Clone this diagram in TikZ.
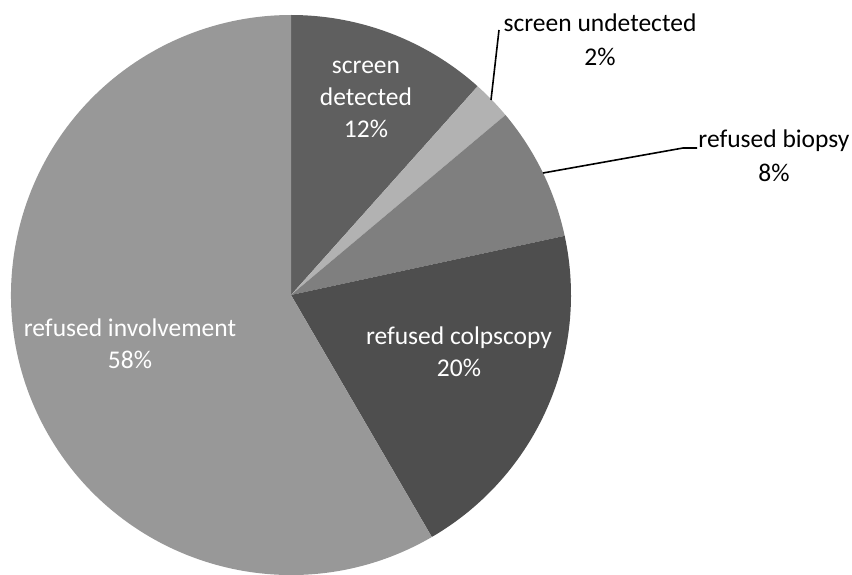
\documentclass[tikz,border=0pt]{standalone}
\usepackage{fontspec}
\setmainfont{Carlito}
\definecolor{cDet}{HTML}{5F5F5F}
\definecolor{cUnd}{HTML}{B2B2B2}
\definecolor{cBio}{HTML}{7F7F7F}
\definecolor{cCol}{HTML}{4E4E4E}
\definecolor{cInv}{HTML}{989898}
\begin{document}
\begin{tikzpicture}[x=1pt,y=1pt,
  inlbl/.style={text=white,align=center,font=\fontsize{25.5}{32}\selectfont,inner sep=0pt},
  outlbl/.style={text=black,align=center,font=\fontsize{25.5}{34}\selectfont,inner sep=0pt},
  leader/.style={draw=black,line width=1.6pt}]
\useasboundingbox (0,-575) rectangle (852,0);
\coordinate (C) at (291,-295);
\def\R{280}
\fill[cDet] (C) -- ++(90:\R) arc[start angle=90,end angle=48.2,radius=\R] -- cycle;
\fill[cUnd] (C) -- ++(48.2:\R) arc[start angle=48.2,end angle=40,radius=\R] -- cycle;
\fill[cBio] (C) -- ++(40:\R) arc[start angle=40,end angle=12.2,radius=\R] -- cycle;
\fill[cCol] (C) -- ++(12.2:\R) arc[start angle=12.2,end angle=-59.8,radius=\R] -- cycle;
\fill[cInv] (C) -- ++(-59.8:\R) arc[start angle=-59.8,end angle=-270,radius=\R] -- cycle;
\node[inlbl] (det) at (366,-99) {screen\\detected\\12\%};
\node[inlbl] (inv) at (130,-344) {refused involvement\\58\%};
\node[inlbl] (col) at (459,-352) {refused colpscopy\\20\%};
\node[outlbl] (und) at (600,-40) {screen undetected\\2\%};
\node[outlbl] (bio) at (774,-156) {refused biopsy\\8\%};
\coordinate (undA) at (491,-100);
\coordinate (undB) at (499,-30);
\coordinate (bioA) at (543,-173);
\coordinate (bioB) at (683,-148);
\coordinate (bioC) at (697,-148);
\draw[leader] (undA) -- (undB);
\draw[leader] (bioA) -- (bioB) -- (bioC);
\end{tikzpicture}
\end{document}
